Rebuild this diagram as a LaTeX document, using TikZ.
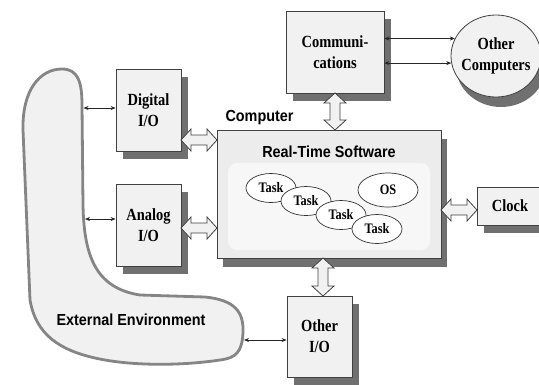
\documentclass[tikz,border=0pt]{standalone}
\usepackage{fontspec}
\setmainfont{Liberation Serif}[FakeStretch=0.85]
\newfontfamily\headfont{Liberation Sans}[FakeStretch=0.9]
\usetikzlibrary{shapes.geometric, arrows.meta, shadows, positioning}

\definecolor{boxfill}{HTML}{F1F1F1}
\definecolor{compfill}{HTML}{ECECEC}
\definecolor{boxline}{HTML}{404040}
\definecolor{shade}{HTML}{707070}
\definecolor{envline}{HTML}{858585}

\tikzstyle{iobox} = [rectangle, draw=boxline, fill=boxfill, line width=0.8pt, minimum width=65pt, minimum height=82pt, align=center, font=\fontsize{17}{21}\selectfont\bfseries, drop shadow={shadow xshift=7pt, shadow yshift=-8pt, fill=shade, opacity=1}]
\tikzstyle{task} = [ellipse, draw=black!80, fill=white, line width=0.7pt, minimum width=50pt, minimum height=29pt, inner sep=0pt, font=\fontsize{14.5}{16}\selectfont\bfseries]
\tikzstyle{heading} = [font=\headfont\fontsize{16}{19}\selectfont\bfseries]
\tikzset{
	link/.style={{Stealth[length=5pt,width=4pt]}-{Stealth[length=5pt,width=4pt]}, line width=0.7pt, black!85},
	fatline/.style={draw=boxline, fill=boxfill, line width=0.8pt},
	pics/fatarrow/.style={code={
		\pgfmathsetmacro\halflen{#1/2}
		\draw[fatline] (-\halflen,0) -- ++(10,-11) -- ++(0,6) -- (\halflen-10,-5) -- ++(0,-6) -- (\halflen,0) -- ++(-10,11) -- ++(0,-6) -- (-\halflen+10,5) -- ++(0,6) -- cycle;
	}}
}

\begin{document}
\begin{tikzpicture}[x=1pt, y=-1pt]
	\useasboundingbox (0,0) rectangle (539,384);
	
	% External environment
	\draw[envline, line width=2.8pt, fill=boxfill] (62,69) .. controls (78,69) and (82,82) .. (82,105)
		-- (83,205) .. controls (84,255) and (95,288) .. (140,295)
		-- (205,297) .. controls (235,300) and (244,312) .. (243,333)
		.. controls (242,352) and (236,358) .. (220,360)
		.. controls (180,366) and (130,366) .. (95,358)
		.. controls (60,350) and (36,335) .. (30,300)
		-- (23,130) .. controls (22,90) and (40,69) .. (62,69) -- cycle;
	\node (env) [heading] at (131,320) {External Environment};
	
	% Computer
	\node (comp) [rectangle, draw=boxline, fill=compfill, line width=0.8pt, minimum width=224pt, minimum height=128pt, drop shadow={shadow xshift=6pt, shadow yshift=-9pt, fill=shade, opacity=1}] at (329,194) {};
	\node (core) [rectangle, rounded corners=9pt, fill=white!60!compfill, minimum width=202pt, minimum height=87pt] at (329,206.5) {};
	\node (complabel) [heading, anchor=base west] at (222,121) {Computer};
	\node (rts) [heading, anchor=base] at (329,157) {Real-Time Software};
	
	% Tasks
	\node (t1) [task] at (271,188) {Task};
	\node (t2) [task] at (306,201) {Task};
	\node (t3) [task] at (341,215) {Task};
	\node (t4) [task] at (377,229) {Task};
	\node (os) [task, minimum width=60pt, minimum height=34pt] at (388,190) {OS};
	
	% I/O boxes
	\node (dig) [iobox] at (148.5,110) {Digital\\I/O};
	\node (ana) [iobox] at (148.5,225) {Analog\\I/O};
	\node (comm) [iobox, minimum width=98pt] at (335,52) {Communi-\\cations};
	\node (oio) [iobox, minimum height=81pt] at (319.5,336.5) {Other\\I/O};
	\node (clk) [iobox, minimum width=66pt, minimum height=38pt] at (510,206) {Clock};
	\node (oc) [ellipse, draw=boxline, fill=boxfill, line width=0.8pt, minimum width=90pt, minimum height=82pt, drop shadow={shadow xshift=5pt, shadow yshift=-10pt, fill=shade, opacity=1}, label={[align=center, font=\fontsize{17}{21}\selectfont\bfseries]center:Other\\Computers}] at (496,56) {};
	
	% Thin links
	\coordinate (envD) at (83.5,108);
	\coordinate (envA) at (85,219);
	\coordinate (envO) at (244,340);
	\draw[link] (envD) -- (envD -| dig.west);
	\draw[link] (envA) -- (envA -| ana.west);
	\draw[link] (envO) -- (envO -| oio.west);
	\draw[link] (comm.east |- oc.157.5) -- (oc.157.5);
	\draw[link] (comm.east |- oc.189) -- (oc.189);
	
	% Fat links
	\pic at (199,140) {fatarrow=36};
	\pic at (199,228) {fatarrow=36};
	\pic[rotate=90] at (335,111.5) {fatarrow=37};
	\pic[rotate=90] at (323,277) {fatarrow=38};
	\pic at (459,210) {fatarrow=36};
	
\end{tikzpicture}
\end{document}
